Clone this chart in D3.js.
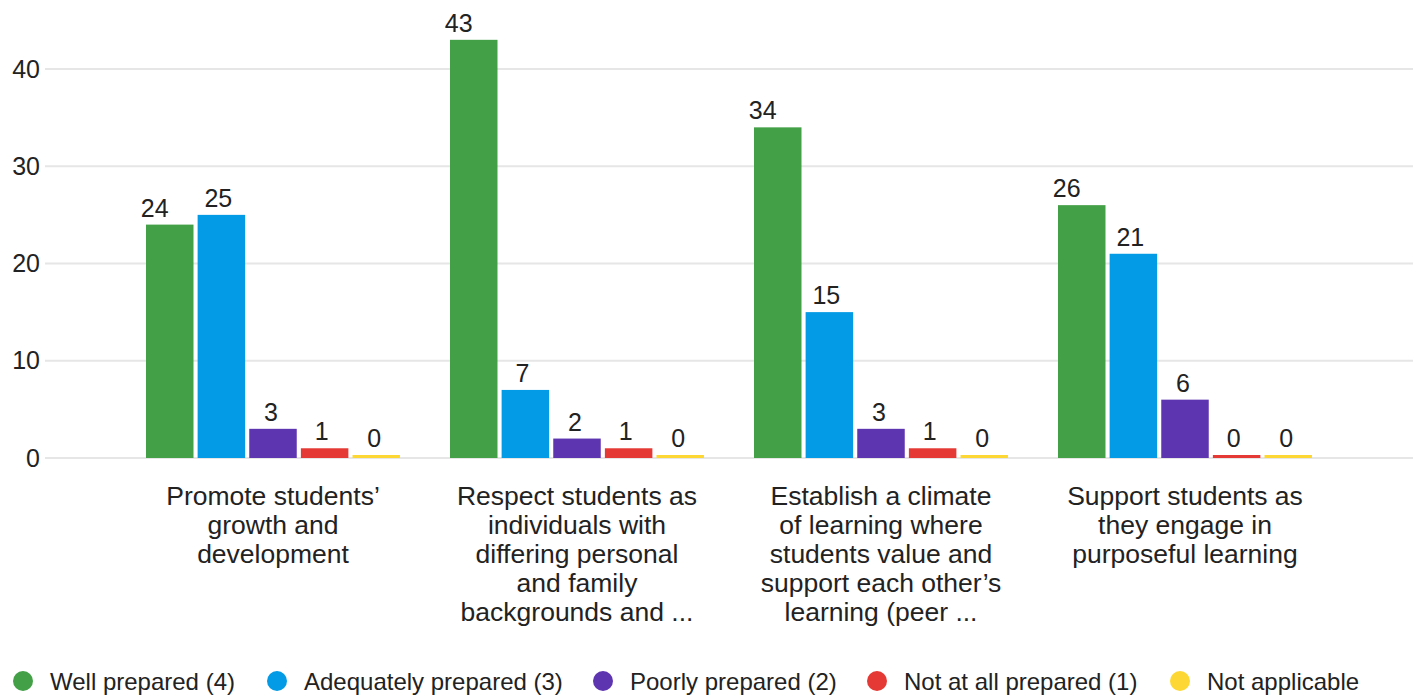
<!DOCTYPE html>
<html>
<head>
<meta charset="utf-8">
<script src="https://cdn.jsdelivr.net/npm/d3@7"></script>
<style>
  body { margin: 0; background: #fff; }
  svg text { font-family: "Liberation Sans", Arial, sans-serif; fill: #222; }
</style>
</head>
<body>
<svg width="1417" height="696"></svg>
<script>
// categories (each label already split into lines like the original)
var categories = [
  ["Promote students\u2019", "growth and", "development"],
  ["Respect students as", "individuals with", "differing personal", "and family", "backgrounds and ..."],
  ["Establish a climate", "of learning where", "students value and", "support each other\u2019s", "learning (peer ..."],
  ["Support students as", "they engage in", "purposeful learning"]
];
var series = ["Well prepared (4)", "Adequately prepared (3)", "Poorly prepared (2)", "Not at all prepared (1)", "Not applicable"];
var colors = ["#43a047", "#039be5", "#5e35b1", "#e53935", "#fdd835"];

var wellPrepared = [24, 43, 34, 26];
var adequatelyPrepared = [25, 7, 15, 21];
var poorlyPrepared = [3, 2, 3, 6];
var notAtAllPrepared = [1, 1, 1, 0];
var notApplicable = [0, 0, 0, 0];

var yTicks = [0, 10, 20, 30, 40];

var values = [wellPrepared, adequatelyPrepared, poorlyPrepared, notAtAllPrepared, notApplicable];
// label nudge per series, the original puts value labels slightly left
var labelShift = [-15, -3, -2, -3, -2];
var svg = d3.select("svg");

var x0 = d3.scaleBand()
    .domain(d3.range(categories.length))
    .range([121, 1337]);

var x1 = d3.scaleBand()
    .domain(d3.range(series.length))
    .range([25, 279])
    .paddingInner(0.08);

var y = d3.scaleLinear()
    .domain([0, 40])
    .range([458, 69]);

// gridlines
svg.append("g").selectAll("line")
    .data(yTicks)
    .enter().append("line")
    .attr("x1", 45).attr("x2", 1413)
    .attr("y1", function(d) { return y(d); })
    .attr("y2", function(d) { return y(d); })
    .attr("stroke", "#e6e6e6")
    .attr("stroke-width", 2);

// y axis labels
var yAxis = d3.axisLeft(y).tickValues(yTicks).tickSize(0).tickPadding(0);
var ya = svg.append("g").attr("transform", "translate(40,0)").call(yAxis);
ya.select(".domain").remove();
ya.selectAll("text").attr("font-size", 25).attr("fill", "#222")
    .attr("font-family", "Liberation Sans, Arial, sans-serif");

// bars
var groups = svg.append("g").selectAll("g")
    .data(categories)
    .enter().append("g")
    .attr("transform", function(d, i) { return "translate(" + x0(i) + ",0)"; });

groups.each(function(cat, ci) {
    var g = d3.select(this);
    var row = series.map(function(s, si) { return { si: si, v: values[si][ci] }; });
    g.selectAll("rect")
        .data(row)
        .enter().append("rect")
        .attr("x", function(d) { return x1(d.si); })
        .attr("width", x1.bandwidth())
        .attr("y", function(d) { return Math.min(y(d.v), y(0) - 3); })
        .attr("height", function(d) { return Math.max(y(0) - y(d.v), 3); })
        .attr("fill", function(d) { return colors[d.si]; });
    g.selectAll("text.val")
        .data(row)
        .enter().append("text")
        .attr("class", "val")
        .attr("x", function(d) { return x1(d.si) + x1.bandwidth() / 2 + labelShift[d.si]; })
        .attr("y", function(d) { return Math.min(y(d.v), y(0) - 3) - 8; })
        .attr("text-anchor", "middle")
        .attr("font-size", 25)
        .text(function(d) { return d.v; });
    // category label
    var t = g.append("text")
        .attr("x", x0.bandwidth() / 2)
        .attr("y", 505)
        .attr("text-anchor", "middle")
        .attr("font-size", 26.5);
    cat.forEach(function(line, li) {
        t.append("tspan")
            .attr("x", x0.bandwidth() / 2)
            .attr("dy", li === 0 ? 0 : 29)
            .text(line);
    });
});

// legend
var legendX = [23, 277, 603, 877, 1180];
var leg = svg.append("g").selectAll("g")
    .data(series)
    .enter().append("g")
    .attr("transform", function(d, i) { return "translate(" + legendX[i] + ",681)"; });
leg.append("circle").attr("r", 10).attr("fill", function(d, i) { return colors[i]; });
leg.append("text")
    .attr("x", 27).attr("y", 9)
    .attr("font-size", 24)
    .text(function(d) { return d; });
</script>
</body>
</html>
